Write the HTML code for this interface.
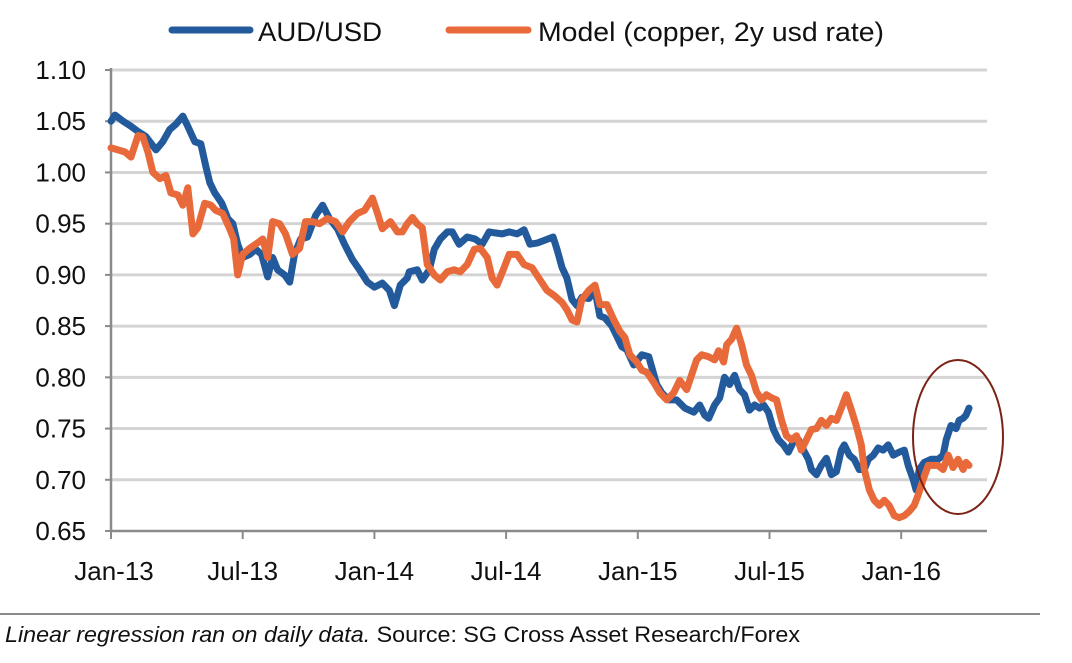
<!DOCTYPE html>
<html><head><meta charset="utf-8"><style>
html,body{margin:0;padding:0;background:#fff;}
svg{display:block;font-family:"Liberation Sans",Arial,sans-serif;}
</style></head><body>
<svg id="chart" width="1072" height="663" viewBox="0 0 1072 663" xmlns="http://www.w3.org/2000/svg">
<g id="grid"></g>
<g id="yaxis"></g>
<g id="xaxis"></g>
<g id="series"></g>
<ellipse cx="958" cy="437" rx="45" ry="77" fill="none" stroke="#7a2315" stroke-width="2"/>
<g>
  <g>
    <line x1="172" y1="30" x2="250" y2="30" stroke="#225a9c" stroke-width="7" stroke-linecap="round"/>
    <text x="258" y="41" font-size="27" fill="#111" textLength="124" lengthAdjust="spacingAndGlyphs">AUD/USD</text>
  </g>
  <g>
    <line x1="449" y1="30" x2="528" y2="30" stroke="#e8693a" stroke-width="7" stroke-linecap="round"/>
    <text x="538" y="41" font-size="27" fill="#111" textLength="346" lengthAdjust="spacingAndGlyphs">Model (copper, 2y usd rate)</text>
  </g>
</g>
<line x1="0" y1="614" x2="1040" y2="614" stroke="#8a8a8a" stroke-width="2"/>
<text x="5" y="642" font-size="22" fill="#111" textLength="795" lengthAdjust="spacingAndGlyphs"><tspan font-style="italic">Linear regression ran on daily data.</tspan> Source: SG Cross Asset Research/Forex</text>
</svg>
<script>
const yTicks = [1.10,1.05,1.00,0.95,0.90,0.85,0.80,0.75,0.70,0.65];
const xTickMonths = [0,6,12,18,24,30,36];
const xTickLabels = ["Jan-13","Jul-13","Jan-14","Jul-14","Jan-15","Jul-15","Jan-16"];
const audMonths = [0,0.18,0.55,0.91,1.23,1.59,2.05,2.36,2.68,2.95,3.27,3.5,3.82,4.09,4.32,4.5,4.73,5.05,5.32,5.55,5.77,6,6.32,6.59,6.86,7.14,7.36,7.59,7.91,8.14,8.36,8.64,8.95,9.32,9.64,9.95,10.32,10.64,11,11.32,11.68,12,12.36,12.68,12.91,13.18,13.5,13.59,13.95,14.18,14.5,14.73,15,15.32,15.55,15.86,16.23,16.59,16.91,17.23,17.5,17.82,18.14,18.5,18.82,19.09,19.41,19.77,20.14,20.32,20.55,20.77,21,21.23,21.45,21.77,22.05,22.27,22.5,22.82,23.05,23.27,23.5,23.82,24.18,24.5,24.86,25.09,25.41,25.77,26.14,26.55,26.82,27.05,27.23,27.5,27.73,27.95,28.18,28.41,28.64,28.86,29.09,29.32,29.55,29.73,29.95,30.18,30.41,30.64,30.86,31.09,31.32,31.55,31.77,31.91,32.14,32.36,32.59,32.82,33.05,33.27,33.41,33.64,33.86,34.09,34.32,34.5,34.73,34.95,35.18,35.41,35.64,35.91,36.14,36.32,36.55,36.68,36.82,37.05,37.36,37.68,37.91,38.05,38.27,38.5,38.64,38.82,38.95,39.09];
const audValues = [1.05,1.056,1.05,1.045,1.04,1.035,1.022,1.03,1.042,1.047,1.055,1.045,1.03,1.028,1.006,0.99,0.98,0.97,0.955,0.95,0.93,0.917,0.92,0.925,0.92,0.898,0.917,0.905,0.90,0.893,0.92,0.935,0.937,0.958,0.968,0.955,0.945,0.93,0.915,0.905,0.893,0.888,0.892,0.885,0.87,0.89,0.897,0.903,0.905,0.895,0.905,0.925,0.935,0.942,0.942,0.93,0.937,0.935,0.93,0.942,0.941,0.94,0.942,0.94,0.944,0.93,0.931,0.934,0.937,0.925,0.907,0.897,0.876,0.87,0.878,0.877,0.885,0.86,0.858,0.85,0.84,0.83,0.827,0.812,0.822,0.82,0.793,0.785,0.778,0.778,0.77,0.766,0.773,0.763,0.76,0.773,0.78,0.8,0.793,0.802,0.788,0.783,0.768,0.773,0.77,0.773,0.766,0.749,0.739,0.734,0.727,0.737,0.739,0.729,0.72,0.71,0.705,0.714,0.721,0.705,0.708,0.729,0.734,0.724,0.72,0.71,0.71,0.72,0.724,0.731,0.729,0.734,0.724,0.727,0.729,0.714,0.7,0.69,0.71,0.717,0.72,0.72,0.724,0.739,0.753,0.75,0.758,0.76,0.763,0.77];
const modelMonths = [0,0.32,0.64,0.91,1.23,1.45,1.68,1.91,2.23,2.5,2.73,3.05,3.27,3.5,3.73,3.95,4.27,4.55,4.77,5.09,5.41,5.59,5.77,6,6.32,6.59,6.91,7.14,7.36,7.68,7.95,8.27,8.59,8.86,9.18,9.5,9.86,10.23,10.55,10.86,11.23,11.55,11.91,12.14,12.36,12.73,13.05,13.27,13.5,13.73,13.95,14.18,14.41,14.73,15,15.32,15.64,15.91,16.23,16.55,16.82,17.14,17.36,17.59,17.91,18.14,18.5,18.82,19.18,19.55,19.86,20.18,20.55,20.77,21,21.23,21.45,21.77,22.05,22.27,22.59,22.91,23.18,23.41,23.64,23.95,24.18,24.41,24.73,25,25.32,25.64,25.91,26.23,26.68,26.91,27.23,27.5,27.68,27.91,28.05,28.27,28.5,28.73,28.95,29.18,29.41,29.64,29.86,30.09,30.32,30.55,30.77,31,31.23,31.45,31.68,31.91,32.14,32.36,32.59,32.82,33.05,33.27,33.5,33.73,33.95,34.18,34.32,34.55,34.77,35,35.23,35.45,35.68,35.91,36.14,36.36,36.59,36.77,37,37.23,37.45,37.68,37.91,38.14,38.36,38.59,38.82,38.95,39.09];
const modelValues = [1.024,1.022,1.02,1.015,1.036,1.035,1.02,1.0,0.994,0.997,0.98,0.978,0.968,0.985,0.94,0.946,0.97,0.968,0.963,0.96,0.945,0.935,0.9,0.92,0.926,0.93,0.935,0.917,0.952,0.95,0.94,0.92,0.926,0.952,0.952,0.95,0.955,0.952,0.942,0.952,0.96,0.963,0.975,0.96,0.945,0.952,0.942,0.942,0.95,0.956,0.95,0.946,0.91,0.9,0.895,0.903,0.905,0.903,0.91,0.925,0.926,0.917,0.897,0.89,0.907,0.92,0.92,0.91,0.907,0.895,0.885,0.88,0.873,0.866,0.856,0.854,0.876,0.885,0.89,0.871,0.871,0.856,0.845,0.839,0.822,0.815,0.807,0.805,0.795,0.785,0.778,0.785,0.797,0.788,0.817,0.822,0.82,0.817,0.826,0.815,0.832,0.837,0.848,0.832,0.812,0.802,0.786,0.778,0.783,0.78,0.778,0.758,0.743,0.739,0.743,0.729,0.739,0.749,0.75,0.758,0.753,0.76,0.758,0.77,0.783,0.768,0.753,0.734,0.71,0.69,0.68,0.675,0.68,0.675,0.665,0.663,0.665,0.669,0.675,0.685,0.7,0.714,0.714,0.714,0.71,0.724,0.712,0.72,0.71,0.717,0.714];

const NS = "http://www.w3.org/2000/svg";
const X0 = 111, PX_PER_MONTH = 21.95, XEND = 987;
const Y_TOP = 70, Y_BOT = 531, VMAX = 1.10, VMIN = 0.65;
function xScale(m){ return X0 + m * PX_PER_MONTH; }
function yScale(v){ return Y_BOT - (v - VMIN) / (VMAX - VMIN) * (Y_BOT - Y_TOP); }
function mk(tag, attrs, parent){ const e = document.createElementNS(NS, tag); for (const k in attrs) e.setAttribute(k, attrs[k]); parent.appendChild(e); return e; }

const grid = document.getElementById('grid');
const yaxis = document.getElementById('yaxis');
const xaxis = document.getElementById('xaxis');
yTicks.forEach(v => {
  const y = yScale(v);
  if (v > VMIN + 1e-9) {
    const g = mk('line', {x1: X0, x2: XEND, y1: y, y2: y, stroke: '#d4d4d4', 'stroke-width': 3}, grid);
    
    
  }
  const t = mk('line', {x1: X0 - 6, x2: X0, y1: y, y2: y, stroke: '#8a8a8a', 'stroke-width': 2}, yaxis);
  
  
  const lb = mk('text', {x: 86, y: y + 9, 'font-size': 26, 'text-anchor': 'end', fill: '#111'}, yaxis);
  lb.textContent = v.toFixed(2);
  
  
});
const yl = mk('line', {x1: X0, x2: X0, y1: Y_TOP - 2, y2: Y_BOT, stroke: '#8a8a8a', 'stroke-width': 2.5}, yaxis);


const xl = mk('line', {x1: X0, x2: XEND, y1: Y_BOT, y2: Y_BOT, stroke: '#8a8a8a', 'stroke-width': 2.5}, xaxis);


xTickMonths.forEach((m, i) => {
  const x = xScale(m);
  const t = mk('line', {x1: x, x2: x, y1: Y_BOT, y2: Y_BOT + 8, stroke: '#8a8a8a', 'stroke-width': 2}, xaxis);
  
  
  const lb = mk('text', {x: i === 0 ? x + 3 : x, y: 580, 'font-size': 26, 'text-anchor': 'middle', fill: '#111'}, xaxis);
  lb.textContent = xTickLabels[i];
  
  
});

const series = document.getElementById('series');
function drawLine(months, values, color, name){
  const n = Math.min(months.length, values.length);
  let d = '';
  for (let i = 0; i < n; i++) d += (i ? 'L' : 'M') + xScale(months[i]).toFixed(1) + ',' + yScale(values[i]).toFixed(1);
  const p = mk('path', {d: d, fill: 'none', stroke: color, 'stroke-width': 7, 'stroke-linejoin': 'round', 'stroke-linecap': 'round'}, series);
  
  
}
drawLine(audMonths, audValues, '#225a9c', 'audusd-line');
drawLine(modelMonths, modelValues, '#e8693a', 'model-line');
</script>
</body></html>
